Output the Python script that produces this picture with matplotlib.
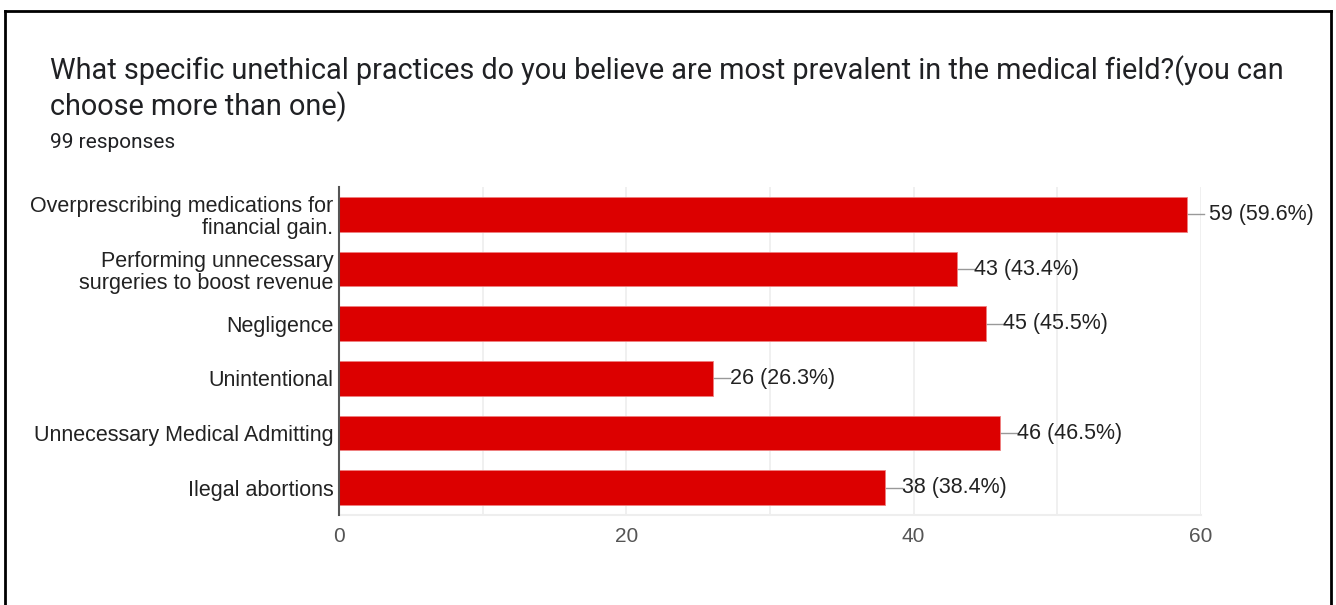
import matplotlib.pyplot as plt

categories = ['Overprescribing medications for\nfinancial gain.',
              'Performing unnecessary\nsurgeries to boost revenue',
              'Negligence',
              'Unintentional',
              'Unnecessary Medical Admitting',
              'Ilegal abortions']
counts = [59, 43, 45, 26, 46, 38]
total = 99

W, H = 1336, 605
fig = plt.figure(figsize=(W / 100, H / 100), dpi=100)

# frame around the card (bottom edge falls outside the image)
fig.add_artist(plt.Line2D([5 / W, 5 / W], [0, 1 - 11 / H], color='black', lw=2))
fig.add_artist(plt.Line2D([1331 / W, 1331 / W], [0, 1 - 11 / H], color='black', lw=2))
fig.add_artist(plt.Line2D([5 / W, 1331 / W], [1 - 11 / H, 1 - 11 / H], color='black', lw=2))

fig.text(50 / W, 1 - 71 / H, 'What specific unethical practices do you believe are most prevalent in the medical field?(you can',
         fontsize=20.8, family='Roboto', color='#202124', va='center')
fig.text(50 / W, 1 - 107 / H, 'choose more than one)',
         fontsize=20.8, family='Roboto', color='#202124', va='center')
fig.text(50 / W, 1 - 142 / H, '99 responses', fontsize=15, family='Roboto', color='#202124', va='center')

left, right, top, bottom = 339, 1201, 187, 515
ax = fig.add_axes([left / W, 1 - bottom / H, (right - left) / W, (bottom - top) / H])

y = list(range(len(categories)))
ax.barh(y, counts, height=0.63, color='#dc0000', edgecolor='#ef8080', linewidth=0.6, zorder=3)
ax.set_ylim(len(categories) - 0.5, -0.5)
ax.set_xlim(0, 60)

for yi, c in zip(y, counts):
    ax.plot([c, c + 1.2], [yi, yi], color='#999999', lw=1, zorder=2, clip_on=False)
    ax.text(c + 1.2 + (0.35 if c > 57 else 0.0), yi, f'{c} ({c / total * 100:.1f}%)', va='center', ha='left',
            fontsize=15.5, family='Liberation Sans', color='#222222')

ax.set_xticks([0, 10, 20, 30, 40, 50, 60])
ax.set_xticklabels(['0', '', '20', '', '40', '', '60'])
ax.grid(axis='x', color='#eeeeee', lw=1.2, zorder=0)
ax.tick_params(axis='x', length=0, pad=9, labelsize=15, labelcolor='#555555')
ax.set_yticks(y)
ax.set_yticklabels(categories, fontsize=15.5, family='Liberation Sans', color='#222222', linespacing=1.1)
ax.tick_params(axis='y', length=0, pad=4)
for lbl in ax.get_xticklabels():
    lbl.set_family('Liberation Sans')

for s in ['top', 'right']:
    ax.spines[s].set_visible(False)
ax.spines['bottom'].set_color('#eeeeee')
ax.spines['bottom'].set_linewidth(1.5)
ax.spines['left'].set_color('#555555')
ax.spines['left'].set_linewidth(1.5)
ax.spines['left'].set_zorder(4)

fig.savefig('out.png', dpi=100)
